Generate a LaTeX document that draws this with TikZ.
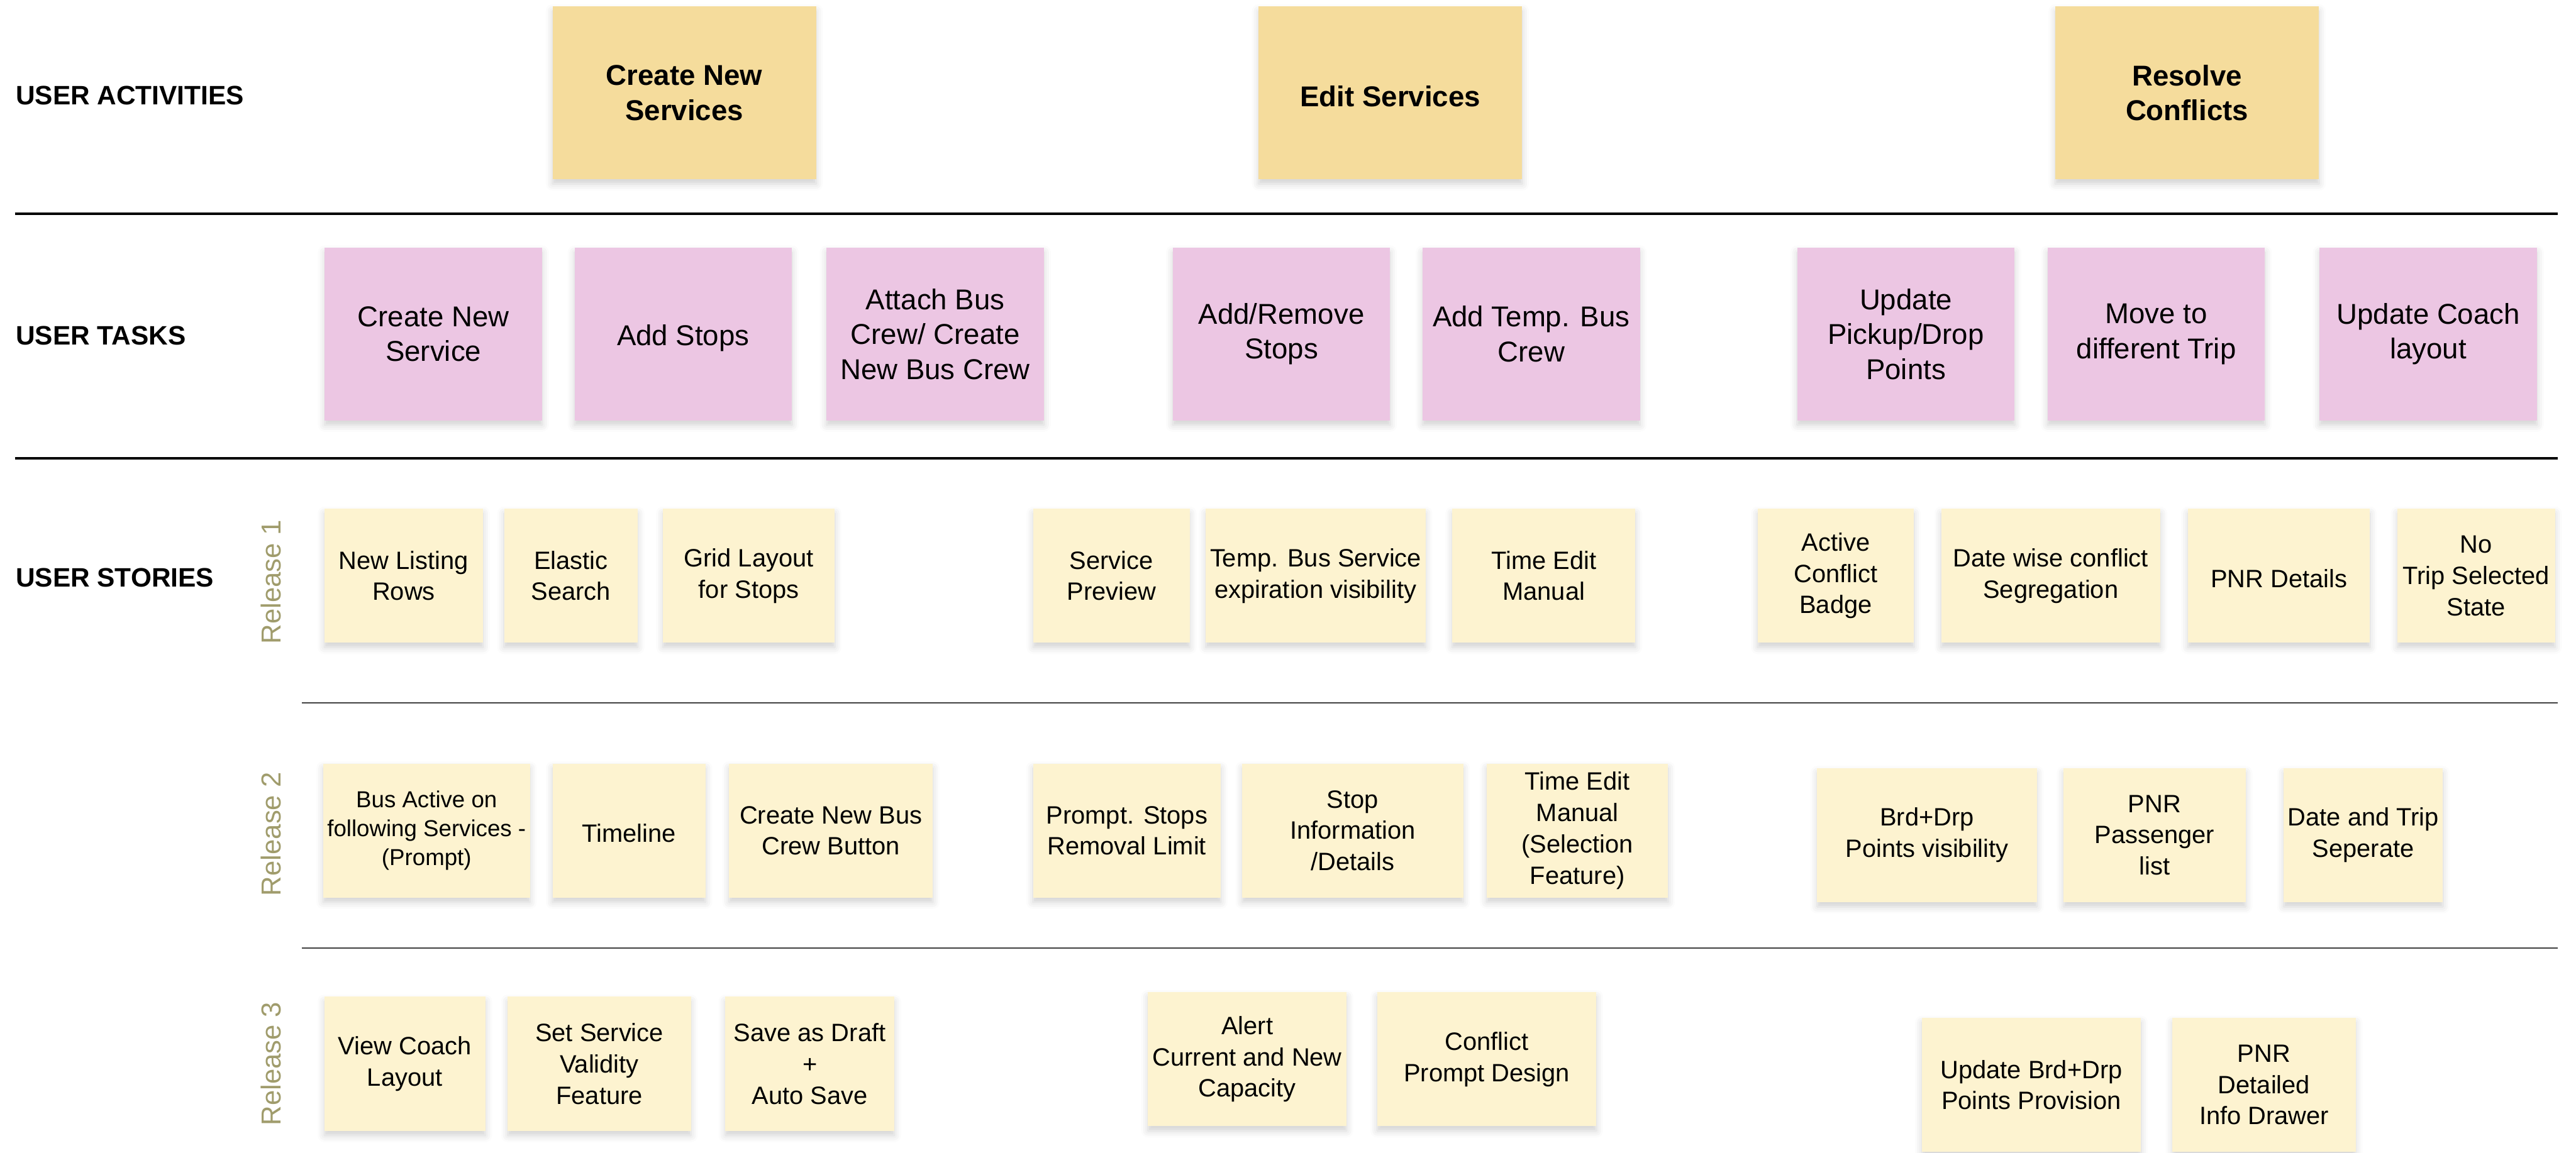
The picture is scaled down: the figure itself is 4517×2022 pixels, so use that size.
\documentclass[tikz,border=0pt]{standalone}
\usepackage{fontspec}
\setmainfont{Liberation Sans}
\usetikzlibrary{shadows.blur}
\definecolor{actfill}{HTML}{F5DC9C}
\definecolor{taskfill}{HTML}{ECC6E3}
\definecolor{storyfill}{HTML}{FDF3D0}
\definecolor{relcol}{HTML}{A09C6C}
\tikzset{
  card/.style={inner sep=2pt, align=center, blur shadow={shadow xshift=0pt, shadow yshift=-0.08cm, shadow blur radius=0.12cm, shadow opacity=18}},
  activity/.style={card, fill=actfill, minimum width=4.62cm, minimum height=3.03cm, font=\bfseries\fontsize{14.3}{17.4}\selectfont, execute at begin node={\rule{0pt}{14pt}}},
  task/.style={card, fill=taskfill, minimum width=3.81cm, minimum height=3.03cm, font=\fontsize{14.3}{17.4}\selectfont, execute at begin node={\rule{0pt}{14.5pt}}},
  story/.style={card, fill=storyfill, minimum height=2.35cm, font=\fontsize{12.5}{15.6}\selectfont, execute at begin node={\rule{0pt}{11.5pt}}},
  rowlabel/.style={anchor=west, inner sep=0pt, font=\bfseries\fontsize{13.3}{16}\selectfont},
  release/.style={rotate=90, inner sep=0pt, text=relcol, font=\fontsize{13.7}{16}\selectfont}
}
\begin{document}
\begin{tikzpicture}[x=0.01cm,y=-0.01cm]
\useasboundingbox (0,0) rectangle (4517,2022);
\node[rowlabel] (ua) at (27,167) {USER ACTIVITIES};
\node[rowlabel] (ut) at (27,589) {USER TASKS};
\node[rowlabel] (us) at (27,1013) {USER STORIES};
\draw[line width=0.05cm] (26,375) -- (4485,375);
\draw[line width=0.05cm] (26,804) -- (4485,804);
\draw[line width=0.02cm, black!75] (529,1233) -- (4485,1233);
\draw[line width=0.02cm, black!75] (529,1663) -- (4485,1663);
\node[release] (r1) at (475,1021) {Release 1};
\node[release] (r2) at (475,1463) {Release 2};
\node[release] (r3) at (475,1866) {Release 3};
\node[activity] (acreate) at (1200,163) {Create New\\Services};
\node[activity] (aedit) at (2438,163) {Edit Services};
\node[activity] (aresolve) at (3835,163) {Resolve\\Conflicts};
\node[task] (tnew) at (760,586) {Create New\\Service};
\node[task] (tstops) at (1198,586) {Add Stops};
\node[task] (tcrew) at (1640,586) {Attach Bus\\Crew/ Create\\New Bus Crew};
\node[task] (taddrem) at (2247,586) {Add/Remove\\Stops};
\node[task] (ttemp) at (2685,586) {Add Temp. Bus\\Crew};
\node[task] (tpickup) at (3342,586) {Update\\Pickup/Drop\\Points};
\node[task] (tmove) at (3781,586) {Move to\\different Trip};
\node[task] (tcoach) at (4258,586) {Update Coach\\layout};
\node[story, minimum width=2.78cm] (s11) at (708,1010) {New Listing\\Rows};
\node[story, minimum width=2.34cm] (s12) at (1001,1010) {Elastic\\Search};
\node[story, minimum width=3.01cm] (s13) at (1313,1010) {Grid Layout\\for Stops};
\node[story, minimum width=2.74cm] (s14) at (1949,1010) {Service\\Preview};
\node[story, minimum width=3.85cm] (s15) at (2307,1010) {Temp. Bus Service\\expiration visibility};
\node[story, minimum width=3.21cm] (s16) at (2707,1010) {Time Edit\\Manual};
\node[story, minimum width=2.74cm] (s17) at (3219,1010) {Active\\Conflict\\Badge};
\node[story, minimum width=3.84cm] (s18) at (3596,1010) {Date wise conflict\\Segregation};
\node[story, minimum width=3.19cm] (s19) at (3996,1010) {PNR Details};
\node[story, minimum width=2.76cm] (s110) at (4342,1010) {No\\Trip Selected\\State};
\node[story, minimum width=3.58cm, font=\fontsize{11.5}{14.5}\selectfont] (s21) at (748,1457) {Bus Active on\\following Services -\\(Prompt)};
\node[story, minimum width=2.68cm] (s22) at (1103,1457) {Timeline};
\node[story, minimum width=3.57cm] (s23) at (1457,1457) {Create New Bus\\Crew Button};
\node[story, minimum width=3.29cm] (s24) at (1976,1457) {Prompt. Stops\\Removal Limit};
\node[story, minimum width=3.87cm] (s25) at (2372,1457) {Stop\\Information\\/Details};
\node[story, minimum width=3.18cm] (s26) at (2766,1457) {Time Edit\\Manual\\(Selection\\Feature)};
\node[story, minimum width=3.85cm] (s27) at (3379,1465) {Brd+Drp\\Points visibility};
\node[story, minimum width=3.19cm] (s28) at (3778,1465) {PNR\\Passenger\\list};
\node[story, minimum width=2.72cm] (s29) at (4144,1465) {Date and Trip\\Seperate};
\node[story, minimum width=2.82cm] (s31) at (710,1866) {View Coach\\Layout};
\node[story, minimum width=3.21cm] (s32) at (1051,1866) {Set Service\\Validity\\Feature};
\node[story, minimum width=2.96cm] (s33) at (1420,1866) {Save as Draft\\+\\Auto Save};
\node[story, minimum width=3.48cm] (s34) at (2187,1858) {Alert\\Current and New\\Capacity};
\node[story, minimum width=3.84cm] (s35) at (2607,1858) {Conflict\\Prompt Design};
\node[story, minimum width=3.84cm] (s36) at (3562,1903) {Update Brd+Drp\\Points Provision};
\node[story, minimum width=3.21cm] (s37) at (3970,1903) {PNR\\Detailed\\Info Drawer};
\end{tikzpicture}
\end{document}
